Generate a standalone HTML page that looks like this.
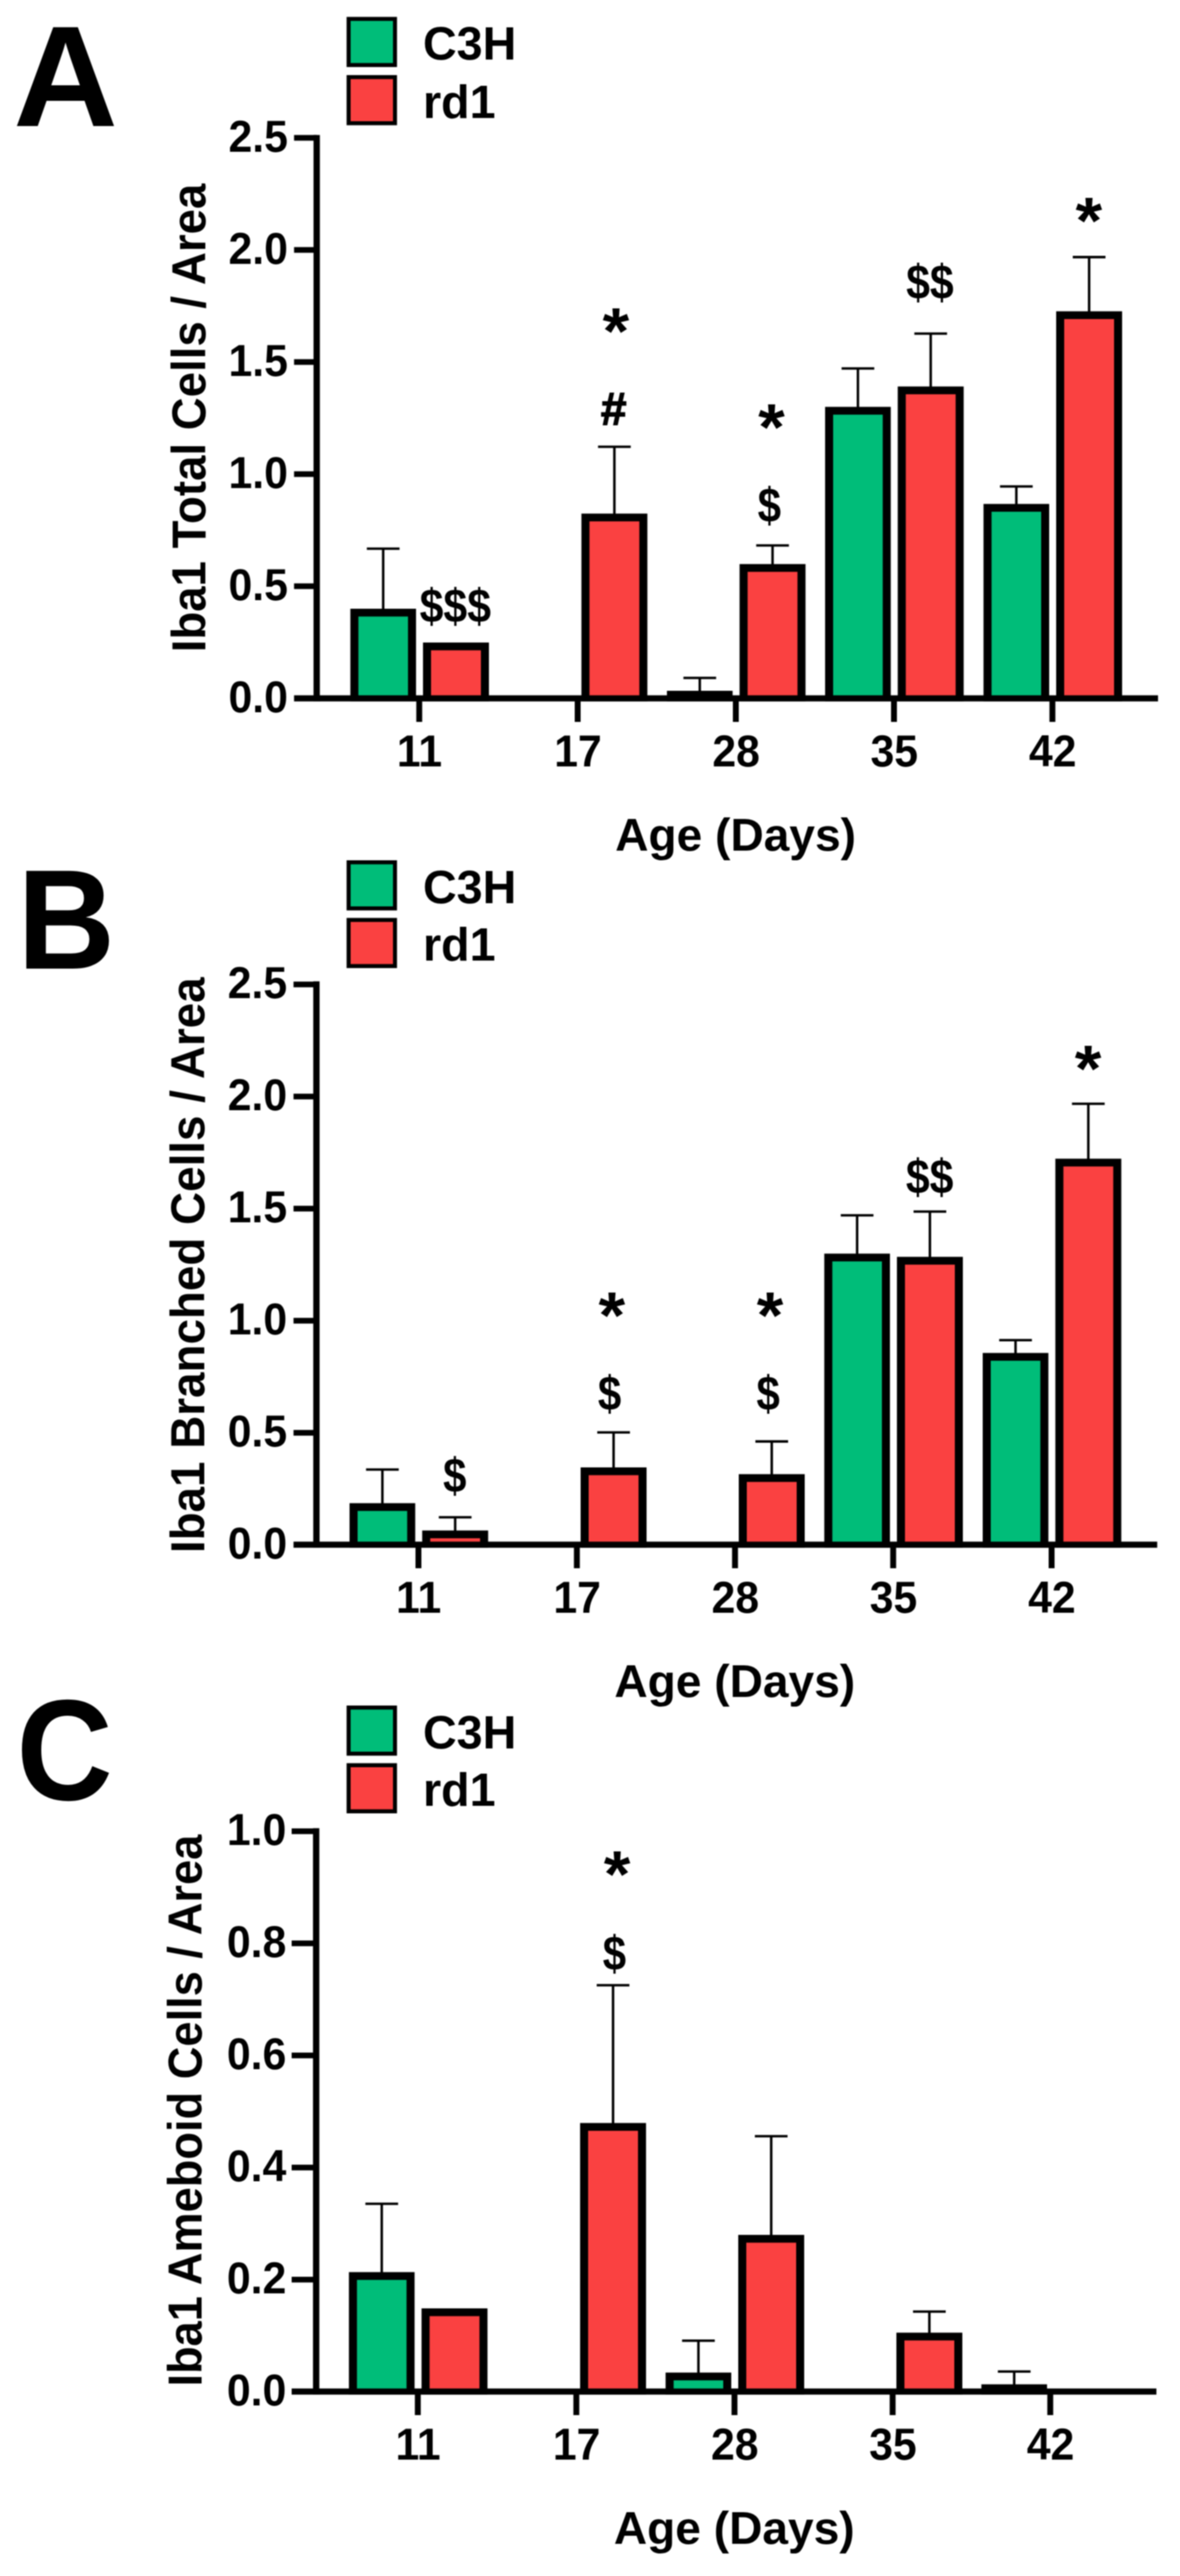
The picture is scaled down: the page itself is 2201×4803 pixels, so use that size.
<!DOCTYPE html>
<html><head><meta charset="utf-8"><title>Figure</title>
<style>html,body{margin:0;padding:0;background:#fff}svg{display:block;filter:blur(0.8px)}
text{font-family:"Liberation Sans",Arial,Helvetica,sans-serif;font-weight:bold;fill:#000}</style></head>
<body><svg width="2201" height="4803" viewBox="0 0 2201 4803">
<rect width="2201" height="4803" fill="#fff"/>
<text transform="translate(24.75 235.00) scale(2.7015 2.6764)" font-size="100" >A</text>
<rect x="650.25" y="35.25" width="86.5" height="86.0" fill="#00BD79" stroke="#000" stroke-width="7.5"/>
<text x="789" y="111.0" font-size="87" text-anchor="start" >C3H</text>
<rect x="650.25" y="143.75" width="86.5" height="86.0" fill="#FA4141" stroke="#000" stroke-width="7.5"/>
<text x="789" y="219.5" font-size="87" text-anchor="start" >rd1</text>
<path d="M684.25 1023H745.25M714.75 1023V1140" stroke="#000" stroke-width="4.6" fill="none"/>
<rect x="653.5" y="1135" width="122.5" height="172.5" fill="#000"/>
<rect x="668.5" y="1149.5" width="92.5" height="147.5" fill="#00BD79"/>
<rect x="789" y="1198" width="123" height="109.5" fill="#000"/>
<rect x="804" y="1212.5" width="93" height="84.5" fill="#FA4141"/>
<path d="M1115.5 833H1176.5M1146.0 833V962.6" stroke="#000" stroke-width="4.6" fill="none"/>
<rect x="1084.5" y="957.6" width="123.0" height="349.9" fill="#000"/>
<rect x="1099.5" y="972.1" width="93.0" height="324.9" fill="#FA4141"/>
<path d="M1274.75 1264H1335.75M1305.25 1264V1293" stroke="#000" stroke-width="4.6" fill="none"/>
<rect x="1244.0" y="1288" width="122.5" height="19.5" fill="#000"/>
<path d="M1410.5 1017H1471.5M1441.0 1017V1056.7" stroke="#000" stroke-width="4.6" fill="none"/>
<rect x="1379.5" y="1051.7" width="123.0" height="255.79999999999995" fill="#000"/>
<rect x="1394.5" y="1066.2" width="93.0" height="230.79999999999995" fill="#FA4141"/>
<path d="M1569.75 687H1630.75M1600.25 687V763.6" stroke="#000" stroke-width="4.6" fill="none"/>
<rect x="1539.0" y="758.6" width="122.5" height="548.9" fill="#000"/>
<rect x="1554.0" y="773.1" width="92.5" height="523.9" fill="#00BD79"/>
<path d="M1705.5 622H1766.5M1736.0 622V725.6" stroke="#000" stroke-width="4.6" fill="none"/>
<rect x="1674.5" y="720.6" width="123.0" height="586.9" fill="#000"/>
<rect x="1689.5" y="735.1" width="93.0" height="561.9" fill="#FA4141"/>
<path d="M1865.25 907H1926.25M1895.75 907V944.6" stroke="#000" stroke-width="4.6" fill="none"/>
<rect x="1834.5" y="939.6" width="122.5" height="367.9" fill="#000"/>
<rect x="1849.5" y="954.1" width="92.5" height="342.9" fill="#00BD79"/>
<path d="M2001.0 479.4H2062.0M2031.5 479.4V585.4" stroke="#000" stroke-width="4.6" fill="none"/>
<rect x="1970" y="580.4" width="123" height="727.1" fill="#000"/>
<rect x="1985" y="594.9" width="93" height="702.1" fill="#FA4141"/>
<rect x="584.8" y="251.7" width="11.8" height="1055.6" fill="#000"/>
<rect x="548.5" y="1296.4" width="1611.5" height="11.4" fill="#000"/>
<text transform="translate(537 1328.4) scale(0.955 1)" font-size="83.5" text-anchor="end" >0.0</text>
<rect x="548.5" y="1087.7" width="42.5" height="10.6" fill="#000"/>
<text transform="translate(537 1119.4) scale(0.955 1)" font-size="83.5" text-anchor="end" >0.5</text>
<rect x="548.5" y="878.7" width="42.5" height="10.6" fill="#000"/>
<text transform="translate(537 910.4) scale(0.955 1)" font-size="83.5" text-anchor="end" >1.0</text>
<rect x="548.5" y="669.7" width="42.5" height="10.6" fill="#000"/>
<text transform="translate(537 701.4) scale(0.955 1)" font-size="83.5" text-anchor="end" >1.5</text>
<rect x="548.5" y="460.7" width="42.5" height="10.6" fill="#000"/>
<text transform="translate(537 492.4) scale(0.955 1)" font-size="83.5" text-anchor="end" >2.0</text>
<rect x="548.5" y="251.7" width="42.5" height="10.6" fill="#000"/>
<text transform="translate(537 283.4) scale(0.955 1)" font-size="83.5" text-anchor="end" >2.5</text>
<rect x="776.5" y="1302" width="11" height="44" fill="#000"/>
<text transform="translate(782.5 1429) scale(0.955 1)" font-size="83.5" text-anchor="middle" >11</text>
<rect x="1072.0" y="1302" width="11" height="44" fill="#000"/>
<text transform="translate(1078.0 1429) scale(0.955 1)" font-size="83.5" text-anchor="middle" >17</text>
<rect x="1367.0" y="1302" width="11" height="44" fill="#000"/>
<text transform="translate(1373.0 1429) scale(0.955 1)" font-size="83.5" text-anchor="middle" >28</text>
<rect x="1662.0" y="1302" width="11" height="44" fill="#000"/>
<text transform="translate(1668.0 1429) scale(0.955 1)" font-size="83.5" text-anchor="middle" >35</text>
<rect x="1957.5" y="1302" width="11" height="44" fill="#000"/>
<text transform="translate(1963.5 1429) scale(0.955 1)" font-size="83.5" text-anchor="middle" >42</text>
<text x="1372.0" y="1586" font-size="86" text-anchor="middle" >Age (Days)</text>
<text transform="translate(382.7 779.3) rotate(-90) scale(1 1.05)" font-size="85" text-anchor="middle">Iba1 Total Cells / Area</text>
<text transform="translate(782.75 1160.26) scale(0.7976 0.8991)" font-size="100" >$$$</text>
<text transform="translate(1123.88 658.73) scale(1.2727 1.2215)" font-size="100" >*</text>
<text transform="translate(1120.79 792.45) scale(0.8612 0.8750)" font-size="100" stroke="#000" stroke-width="2.5">#</text>
<text transform="translate(1414.18 837.93) scale(1.2727 1.2215)" font-size="100" >*</text>
<text transform="translate(1413.17 973.21) scale(0.7830 0.8991)" font-size="100" >$</text>
<text transform="translate(1690.25 557.01) scale(0.7972 0.8991)" font-size="100" >$$</text>
<text transform="translate(2006.18 453.23) scale(1.2727 1.2215)" font-size="100" >*</text>
<text transform="translate(32.25 1806.00) scale(2.5262 2.6473)" font-size="100" >B</text>
<rect x="650.25" y="1607.75" width="86.5" height="86.0" fill="#00BD79" stroke="#000" stroke-width="7.5"/>
<text x="789" y="1683.5" font-size="87" text-anchor="start" >C3H</text>
<rect x="650.25" y="1715.25" width="86.5" height="86.0" fill="#FA4141" stroke="#000" stroke-width="7.5"/>
<text x="789" y="1791.0" font-size="87" text-anchor="start" >rd1</text>
<path d="M682.75 2740H743.75M713.25 2740V2807.7" stroke="#000" stroke-width="4.6" fill="none"/>
<rect x="652.0" y="2802.7" width="122.5" height="82.80000000000018" fill="#000"/>
<rect x="667.0" y="2817.2" width="92.5" height="57.80000000000018" fill="#00BD79"/>
<path d="M818.5 2829H879.5M849.0 2829V2858.6" stroke="#000" stroke-width="4.6" fill="none"/>
<rect x="787.5" y="2853.6" width="123.0" height="31.90000000000009" fill="#000"/>
<rect x="802.5" y="2868.1" width="93.0" height="6.900000000000091" fill="#FA4141"/>
<path d="M1114.0 2670.8H1175.0M1144.5 2670.8V2741" stroke="#000" stroke-width="4.6" fill="none"/>
<rect x="1083" y="2736" width="123" height="149.5" fill="#000"/>
<rect x="1098" y="2750.5" width="93" height="124.5" fill="#FA4141"/>
<path d="M1409.0 2687.6H1470.0M1439.5 2687.6V2753.6" stroke="#000" stroke-width="4.6" fill="none"/>
<rect x="1378" y="2748.6" width="123" height="136.9000000000001" fill="#000"/>
<rect x="1393" y="2763.1" width="93" height="111.90000000000009" fill="#FA4141"/>
<path d="M1568.25 2266H1629.25M1598.75 2266V2342.4" stroke="#000" stroke-width="4.6" fill="none"/>
<rect x="1537.5" y="2337.4" width="122.5" height="548.0999999999999" fill="#000"/>
<rect x="1552.5" y="2351.9" width="92.5" height="523.0999999999999" fill="#00BD79"/>
<path d="M1704.0 2259H1765.0M1734.5 2259V2348.4" stroke="#000" stroke-width="4.6" fill="none"/>
<rect x="1673" y="2343.4" width="123" height="542.0999999999999" fill="#000"/>
<rect x="1688" y="2357.9" width="93" height="517.0999999999999" fill="#FA4141"/>
<path d="M1863.75 2498.8H1924.75M1894.25 2498.8V2527.6" stroke="#000" stroke-width="4.6" fill="none"/>
<rect x="1833.0" y="2522.6" width="122.5" height="362.9000000000001" fill="#000"/>
<rect x="1848.0" y="2537.1" width="92.5" height="337.9000000000001" fill="#00BD79"/>
<path d="M1999.5 2058H2060.5M2030.0 2058V2165.4" stroke="#000" stroke-width="4.6" fill="none"/>
<rect x="1968.5" y="2160.4" width="123.0" height="725.0999999999999" fill="#000"/>
<rect x="1983.5" y="2174.9" width="93.0" height="700.0999999999999" fill="#FA4141"/>
<rect x="584.3" y="1829.7" width="11.8" height="1055.6" fill="#000"/>
<rect x="547.5" y="2874.4" width="1611.0" height="11.4" fill="#000"/>
<text transform="translate(535.5 2906.4) scale(0.955 1)" font-size="83.5" text-anchor="end" >0.0</text>
<rect x="547.5" y="2666.2" width="43.0" height="10.6" fill="#000"/>
<text transform="translate(535.5 2697.4) scale(0.955 1)" font-size="83.5" text-anchor="end" >0.5</text>
<rect x="547.5" y="2457.2" width="43.0" height="10.6" fill="#000"/>
<text transform="translate(535.5 2488.4) scale(0.955 1)" font-size="83.5" text-anchor="end" >1.0</text>
<rect x="547.5" y="2248.2" width="43.0" height="10.6" fill="#000"/>
<text transform="translate(535.5 2279.4) scale(0.955 1)" font-size="83.5" text-anchor="end" >1.5</text>
<rect x="547.5" y="2039.2" width="43.0" height="10.6" fill="#000"/>
<text transform="translate(535.5 2070.4) scale(0.955 1)" font-size="83.5" text-anchor="end" >2.0</text>
<rect x="547.5" y="1830.2" width="43.0" height="10.6" fill="#000"/>
<text transform="translate(535.5 1861.4) scale(0.955 1)" font-size="83.5" text-anchor="end" >2.5</text>
<rect x="775.0" y="2880" width="11" height="44" fill="#000"/>
<text transform="translate(781.0 3007) scale(0.955 1)" font-size="83.5" text-anchor="middle" >11</text>
<rect x="1070.5" y="2880" width="11" height="44" fill="#000"/>
<text transform="translate(1076.5 3007) scale(0.955 1)" font-size="83.5" text-anchor="middle" >17</text>
<rect x="1365.5" y="2880" width="11" height="44" fill="#000"/>
<text transform="translate(1371.5 3007) scale(0.955 1)" font-size="83.5" text-anchor="middle" >28</text>
<rect x="1660.5" y="2880" width="11" height="44" fill="#000"/>
<text transform="translate(1666.5 3007) scale(0.955 1)" font-size="83.5" text-anchor="middle" >35</text>
<rect x="1956.0" y="2880" width="11" height="44" fill="#000"/>
<text transform="translate(1962.0 3007) scale(0.955 1)" font-size="83.5" text-anchor="middle" >42</text>
<text x="1370.5" y="3164" font-size="86" text-anchor="middle" >Age (Days)</text>
<text transform="translate(380.5 2359) rotate(-90) scale(1 1.05)" font-size="85.35" text-anchor="middle">Iba1 Branched Cells / Area</text>
<text transform="translate(826.47 2781.61) scale(0.7830 0.8991)" font-size="100" >$</text>
<text transform="translate(1116.58 2494.13) scale(1.2727 1.2215)" font-size="100" >*</text>
<text transform="translate(1115.37 2629.01) scale(0.7830 0.8991)" font-size="100" >$</text>
<text transform="translate(1411.48 2494.13) scale(1.2727 1.2215)" font-size="100" >*</text>
<text transform="translate(1410.97 2629.01) scale(0.7830 0.8991)" font-size="100" >$</text>
<text transform="translate(1689.75 2224.86) scale(0.7972 0.8991)" font-size="100" >$$</text>
<text transform="translate(2004.78 2034.13) scale(1.2727 1.2215)" font-size="100" >*</text>
<text transform="translate(30.76 3355.62) scale(2.4840 2.6756)" font-size="100" >C</text>
<rect x="650.25" y="3183.75" width="86.5" height="86.0" fill="#00BD79" stroke="#000" stroke-width="7.5"/>
<text x="789" y="3259.5" font-size="87" text-anchor="start" >C3H</text>
<rect x="650.25" y="3291.25" width="86.5" height="86.0" fill="#FA4141" stroke="#000" stroke-width="7.5"/>
<text x="789" y="3367.0" font-size="87" text-anchor="start" >rd1</text>
<path d="M681.55 4109H742.55M712.05 4109V4241.4" stroke="#000" stroke-width="4.6" fill="none"/>
<rect x="650.8" y="4236.4" width="122.5" height="228.10000000000036" fill="#000"/>
<rect x="665.8" y="4250.9" width="92.5" height="203.10000000000036" fill="#00BD79"/>
<rect x="786.3" y="4304" width="123.0" height="160.5" fill="#000"/>
<rect x="801.3" y="4318.5" width="93.0" height="135.5" fill="#FA4141"/>
<path d="M1113.0 3701.5H1174.0M1143.5 3701.5V3963.4" stroke="#000" stroke-width="4.6" fill="none"/>
<rect x="1082" y="3958.4" width="123" height="506.0999999999999" fill="#000"/>
<rect x="1097" y="3972.9" width="93" height="481.0999999999999" fill="#FA4141"/>
<path d="M1272.25 4364.2H1333.25M1302.75 4364.2V4428.7" stroke="#000" stroke-width="4.6" fill="none"/>
<rect x="1241.5" y="4423.7" width="122.5" height="40.80000000000018" fill="#000"/>
<rect x="1256.5" y="4438.2" width="92.5" height="15.800000000000182" fill="#00BD79"/>
<path d="M1408.0 3983H1469.0M1438.5 3983V4172" stroke="#000" stroke-width="4.6" fill="none"/>
<rect x="1377" y="4167" width="123" height="297.5" fill="#000"/>
<rect x="1392" y="4181.5" width="93" height="272.5" fill="#FA4141"/>
<path d="M1703.0 4310H1764.0M1733.5 4310V4354.3" stroke="#000" stroke-width="4.6" fill="none"/>
<rect x="1672" y="4349.3" width="123" height="115.19999999999982" fill="#000"/>
<rect x="1687" y="4363.8" width="93" height="90.19999999999982" fill="#FA4141"/>
<path d="M1861.25 4421.8H1922.25M1891.75 4421.8V4450.6" stroke="#000" stroke-width="4.6" fill="none"/>
<rect x="1830.5" y="4445.6" width="122.5" height="18.899999999999636" fill="#000"/>
<rect x="583.8" y="3408.7" width="11.8" height="1055.6" fill="#000"/>
<rect x="544" y="4453.4" width="1613" height="11.4" fill="#000"/>
<text transform="translate(534 4485.4) scale(0.955 1)" font-size="83.5" text-anchor="end" >0.0</text>
<rect x="544" y="4245.099999999999" width="46" height="10.6" fill="#000"/>
<text transform="translate(534 4276.4) scale(0.955 1)" font-size="83.5" text-anchor="end" >0.2</text>
<rect x="544" y="4036.1" width="46" height="10.6" fill="#000"/>
<text transform="translate(534 4067.4) scale(0.955 1)" font-size="83.5" text-anchor="end" >0.4</text>
<rect x="544" y="3827.1" width="46" height="10.6" fill="#000"/>
<text transform="translate(534 3858.4) scale(0.955 1)" font-size="83.5" text-anchor="end" >0.6</text>
<rect x="544" y="3618.1" width="46" height="10.6" fill="#000"/>
<text transform="translate(534 3649.4) scale(0.955 1)" font-size="83.5" text-anchor="end" >0.8</text>
<rect x="544" y="3409.1" width="46" height="10.6" fill="#000"/>
<text transform="translate(534 3440.4) scale(0.955 1)" font-size="83.5" text-anchor="end" >1.0</text>
<rect x="773.8" y="4459" width="11" height="44" fill="#000"/>
<text transform="translate(779.8 4586) scale(0.955 1)" font-size="83.5" text-anchor="middle" >11</text>
<rect x="1069.5" y="4459" width="11" height="44" fill="#000"/>
<text transform="translate(1075.5 4586) scale(0.955 1)" font-size="83.5" text-anchor="middle" >17</text>
<rect x="1364.5" y="4459" width="11" height="44" fill="#000"/>
<text transform="translate(1370.5 4586) scale(0.955 1)" font-size="83.5" text-anchor="middle" >28</text>
<rect x="1659.5" y="4459" width="11" height="44" fill="#000"/>
<text transform="translate(1665.5 4586) scale(0.955 1)" font-size="83.5" text-anchor="middle" >35</text>
<rect x="1953.5" y="4459" width="11" height="44" fill="#000"/>
<text transform="translate(1959.5 4586) scale(0.955 1)" font-size="83.5" text-anchor="middle" >42</text>
<text x="1369.5" y="4743" font-size="86" text-anchor="middle" >Age (Days)</text>
<text transform="translate(376 3935.3) rotate(-90) scale(1 1.05)" font-size="84.3" text-anchor="middle">Iba1 Ameboid Cells / Area</text>
<text transform="translate(1126.18 3536.13) scale(1.2727 1.2215)" font-size="100" >*</text>
<text transform="translate(1124.27 3672.86) scale(0.7830 0.8991)" font-size="100" >$</text>
</svg></body></html>
